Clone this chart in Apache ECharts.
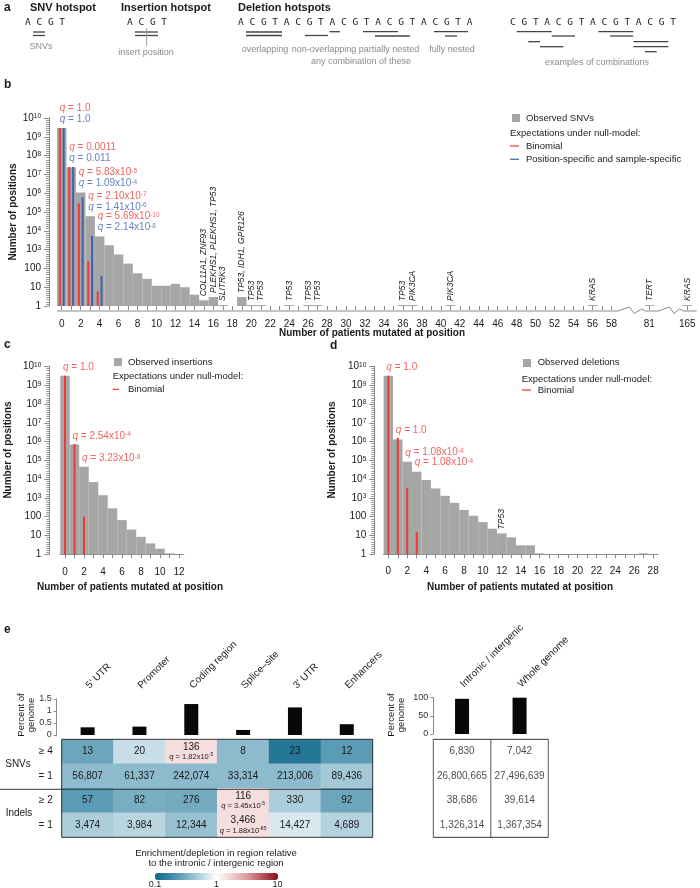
<!DOCTYPE html>
<html><head><meta charset="utf-8">
<script src="https://cdn.jsdelivr.net/npm/echarts@6/dist/echarts.min.js"></script>
<style>html,body{margin:0;padding:0;background:#fff}#c{width:700px;height:888px}</style>
</head><body><div id="c"></div>
<script>
// ================= DATA =================
// Panel b: SNVs
const snvPatientLabels = ['0','1','2','3','4','5','6','7','8','9','10','11','12','13','14','15','16','17','18','19','20','21','22','23','24','25','26','27','28','29','30','31','32','33','34','35','36','37','38','39','40','41','42','43','44','45','46','47','48','49','50','51','52','53','54','55','56','57','58','','','','81','','','','165'];
const snvObserved = [2.9e9, 2.3e7, 1.1e6, 6e4, 5e3, 1.7e3, 550, 180, 55, 28, 12, 12, 15, 10, 4, 2, 3, 1, '-', 3, 1, 1, '-', '-', 1, '-', 1, 1,
  '-','-','-','-','-','-','-','-', 1, 1, '-','-','-', 1,
  '-','-','-','-','-','-','-','-','-','-','-','-','-','-', 1, '-','-','-','-','-', 1, '-','-','-', 1];
const snvGenes = [['15','COL11A1, ZNF93'],['16','PLEKHS1, PLEKHS1, TP53'],['17','SLITRK3'],['19','TP53, IDH1, GPR126'],['20','TP53'],['21','TP53'],['24','TP53'],['26','TP53'],['27','TP53'],['36','TP53'],['37','PIK3CA'],['41','PIK3CA'],['56','KRAS'],['81','TERT'],['165','KRAS']];
const snvBinomial = [2.9e9, 2.5e7, 2.9e5, 240, 6];
const snvPositionSpecific = [2.9e9, 2.5e7, 6e5, 5.3e3, 40];
const qSnvBinomial = ['1.0', '0.0011', '5.83x10^-5', '2.10x10^-7', '5.69x10^-10'];
const qSnvPositionSpecific = ['1.0', '0.011', '1.09x10^-4', '1.41x10^-6', '2.14x10^-8'];

// Panel c: insertions
const insPatientLabels = ['0','1','2','3','4','5','6','7','8','9','10','11','12'];
const insObserved = [3.2e9, 7e5, 4.6e4, 7e3, 1.4e3, 280, 66, 21, 8.5, 3.8, 2, 1, '-'];
const insBinomial = [3.2e9, 7.5e5, 100];
const qInsBinomial = ['1.0', '2.54x10^-4', '3.23x10^-8'];

// Panel d: deletions
const delPatientLabels = ['0','1','2','3','4','5','6','7','8','9','10','11','12','13','14','15','16','17','18','19','20','21','22','23','24','25','26','27','28'];
const delObserved = [3.2e9, 1.3e6, 8.5e4, 2.5e4, 9e3, 3.2e3, 1.3e3, 550, 230, 113, 52, 23, 13, 8, 3, 3, 1, '-','-','-','-','-','-','-','-','-','-', 1, '-'];
const delGenes = [['12','TP53']];
const delBinomial = [3.2e9, 1.6e6, 3.5e3, 15];
const qDelBinomial = ['1.0', '1.0', '1.08x10^-4', '1.08x10^-4'];

// Panel e
const regions = ["5' UTR", 'Promoter', 'Coding region', 'Splice\u2013site', "3' UTR", 'Enhancers'];
const regionPercent = [0.32, 0.35, 1.29, 0.21, 1.15, 0.45];
const refRegions = ['Intronic / intergenic', 'Whole genome'];
const refPercent = [97, 100];
const rowLabels = ['\u2265 4', '= 1', '\u2265 2', '= 1'];
const snvHotCounts = [13, 20, 136, 8, 23, 12];
const snvSingleCounts = [56807, 61337, 242074, 33314, 213006, 89436];
const indelHotCounts = [57, 82, 276, 116, 330, 92];
const indelSingleCounts = [3474, 3984, 12344, 3466, 14427, 4689];
// log10 enrichment relative to intronic / intergenic
const snvHotEnrich = [-0.55, -0.2, 0.17, -0.42, -0.87, -0.62];
const snvSingleEnrich = [-0.42, -0.42, -0.42, -0.42, -0.42, -0.33];
const indelHotEnrich = [-0.62, -0.5, -0.52, 0.17, -0.3, -0.55];
const indelSingleEnrich = [-0.3, -0.25, -0.38, 0.17, -0.14, -0.27];
const qCellCol = [2, 3, 3];
const qCellRow = [0, 2, 3];
const qCellValue = ['1.82x10^-5', '3.45x10^-5', '1.88x10^-85'];
const refCountsSnvHot = [6830, 7042];
const refCountsSnvSingle = [26800665, 27496639];
const refCountsIndelHot = [38686, 39614];
const refCountsIndelSingle = [1326314, 1367354];
const colorbarTicks = ['0.1', '1', '10'];

// ================= STYLE =================
const FONT = '"Liberation Sans", Arial, Helvetica, sans-serif';
const MONO = '"DejaVu Sans Mono", "Liberation Mono", monospace';
const RED = '#ec3b36', BLUE = '#3f62ad', GRAY = '#a6a6a6', AX = '#8a8a8a', TXT = '#1a1a1a';

const chart = echarts.init(document.getElementById('c'), null, {renderer: 'canvas'});

// log10 transform for the count axes (axes are labelled in powers of ten)
function lg(v) { return v === '-' ? '-' : Math.log10(v); }

function supRich(color, size) {
  return {
    i: {fontFamily: FONT, fontStyle: 'italic', fontSize: size, color: color},
    n: {fontFamily: FONT, fontSize: size, color: color},
    s: {fontFamily: FONT, fontSize: size * 0.65, color: color, verticalAlign: 'top', lineHeight: size * 0.8}
  };
}
function qText(q) {
  const parts = q.split('^');
  return '{i|q}{n| = ' + parts[0] + '}' + (parts[1] ? '{s|' + parts[1] + '}' : '');
}
function logLabel(v) {
  const e = Math.round(v);
  if (e === 0) return '{n|1}';
  if (e === 1) return '{n|10}';
  if (e === 2) return '{n|100}';
  return '{n|10}{s|' + e + '}';
}
function logYAxis(grid, offset) {
  return {
    gridIndex: grid, type: 'value', min: 0, max: 10, interval: 1, offset: offset,
    axisLine: {show: true, lineStyle: {color: AX}},
    axisTick: {show: true, length: 5, lineStyle: {color: AX}},
    minorTick: {show: true, splitNumber: 9, length: 3, lineStyle: {color: '#9a9a9a'}},
    splitLine: {show: false},
    axisLabel: {formatter: logLabel, margin: 8, rich: supRich(TXT, 10)}
  };
}
function catXAxis(grid, labels, offset, showLine) {
  return {
    gridIndex: grid, type: 'category', data: labels, offset: offset,
    axisLine: {show: showLine, lineStyle: {color: AX}},
    axisTick: {show: true, alignWithLabel: true, length: 4, lineStyle: {color: AX},
      interval: function (i, v) { return v !== ''; }},
    axisLabel: {fontFamily: FONT, fontSize: 10, color: TXT, margin: 8,
      interval: function (i, v) { return v !== '' && (Number(v) % 2 === 0 || Number(v) > 58); }},
    splitLine: {show: false}
  };
}
function histSeries(xi, yi, values, labels, genes) {
  const gmap = {};
  (genes || []).forEach(g => { gmap[g[0]] = g[1]; });
  return {
    type: 'bar', xAxisIndex: xi, yAxisIndex: yi, barCategoryGap: '0%', barMinHeight: 1,
    itemStyle: {color: GRAY}, z: 2, silent: true,
    data: values.map((v, i) => gmap[labels[i]] ? {value: lg(v), label: {show: true, formatter: gmap[labels[i]]}} : lg(v)),
    label: {show: false, position: 'top', rotate: 90, align: 'left', verticalAlign: 'middle', distance: 4,
      fontFamily: FONT, fontStyle: 'italic', fontSize: 8.5, color: TXT}
  };
}
function expSeries(xi, yi, values, color, off) {
  return {
    type: 'custom', xAxisIndex: xi, yAxisIndex: yi, z: 4, silent: true,
    data: values.map((v, i) => [i, lg(v)]),
    renderItem: function (params, api) {
      const x = api.value(0), v = api.value(1);
      const p0 = api.coord([x, 0]), p1 = api.coord([x, v]);
      const band = api.size([1, 0])[0];
      const dx = off * band;
      return {type: 'line', shape: {x1: p0[0] + dx, y1: p0[1], x2: p1[0] + dx, y2: p1[1]},
        style: {stroke: color, lineWidth: 2}};
    }
  };
}
function qSeries(xi, yi, observed, qs, color, dy) {
  return {
    type: 'scatter', xAxisIndex: xi, yAxisIndex: yi, symbolSize: 0, z: 5, silent: true,
    data: qs.map((q, i) => ({value: [i, lg(observed[i])], label: {formatter: qText(q)}})),
    label: {show: true, position: [-2, dy], align: 'left', verticalAlign: 'middle', rich: supRich(color, 10)}
  };
}
function fmt(n) { return n.toLocaleString('en-US'); }

// ---------- heatmap data ----------
const countRows = [snvHotCounts, snvSingleCounts, indelHotCounts, indelSingleCounts];
const enrichRows = [snvHotEnrich, snvSingleEnrich, indelHotEnrich, indelSingleEnrich];
const heatData = [];
countRows.forEach((row, r) => row.forEach((cnt, c) => {
  let q = '';
  qCellCol.forEach((qc, k) => { if (qc === c && qCellRow[k] === r) q = qCellValue[k]; });
  heatData.push([c, r, enrichRows[r][c], cnt, q]);
}));
const refRows = [refCountsSnvHot, refCountsSnvSingle, refCountsIndelHot, refCountsIndelSingle];
const refData = [];
refRows.forEach((row, r) => row.forEach((cnt, c) => refData.push([c, r, cnt])));

// ---------- graphic (schematic + texts) ----------
const G = [];
function T(text, x, y, o) {
  o = o || {};
  G.push({type: 'text', x: x, y: y, rotation: o.rot || 0, silent: true, z: 10,
    style: {text: text, font: o.font || ('10px ' + FONT), fill: o.fill || TXT,
      align: o.align || 'left', verticalAlign: o.va || 'middle',
      textAlign: o.align || 'left', textVerticalAlign: o.va || 'middle', rich: o.rich}});
}
function L(x1, y1, x2, y2, c, w) {
  G.push({type: 'line', silent: true, z: 10, shape: {x1: x1, y1: y1, x2: x2, y2: y2}, style: {stroke: c || '#444', lineWidth: w || 1.3}});
}
function R(x, y, w, h, c) {
  G.push({type: 'rect', silent: true, z: 10, shape: {x: x, y: y, width: w, height: h}, style: {fill: c}});
}
const BOLD11 = 'bold 11px ' + FONT;
const SMALLG = '9px ' + FONT;
// panel letters
T('a', 4, 8, {font: 'bold 12px ' + FONT});
T('b', 4, 85, {font: 'bold 12px ' + FONT});
T('c', 4, 345, {font: 'bold 12px ' + FONT});
T('d', 330, 346, {font: 'bold 12px ' + FONT});
T('e', 4, 630, {font: 'bold 12px ' + FONT});
// panel a schematic
T('SNV hotspot', 30, 8, {font: BOLD11});
T('Insertion hotspot', 121, 8, {font: BOLD11});
T('Deletion hotspots', 238, 8, {font: BOLD11});
const seqFont = '9.5px ' + MONO;
T('A C G T', 25, 23, {font: seqFont, fill: '#222'});
T('A C G T', 127, 23, {font: seqFont, fill: '#222'});
T('A C G T A C G T A C G T A C G T A C G T A', 238, 23, {font: seqFont, fill: '#222'});
T('C G T A C G T A C G T A C G T', 510, 23, {font: seqFont, fill: '#222'});
L(33, 32, 45, 32); L(33, 35.5, 45, 35.5);
T('SNVs', 41, 46.5, {font: SMALLG, fill: '#8a8a8a', align: 'center'});
L(135, 32, 158, 32); L(135, 35.5, 158, 35.5);
L(146.7, 28, 146.7, 46, '#9a9a9a', 1);
T('insert position', 146, 53, {font: SMALLG, fill: '#8a8a8a', align: 'center'});
L(246, 32, 282, 32); L(246, 35.5, 282, 35.5);
L(305, 35.5, 328, 35.5); L(329.5, 31.7, 340, 31.7);
L(363, 31.7, 398, 31.7); L(375, 36, 410, 36);
L(434, 31.7, 468, 31.7); L(445, 36, 457, 36);
T('overlapping', 265, 50, {font: SMALLG, fill: '#8a8a8a', align: 'center'});
T('non-overlapping', 324, 50, {font: SMALLG, fill: '#8a8a8a', align: 'center'});
T('partially nested', 389, 50, {font: SMALLG, fill: '#8a8a8a', align: 'center'});
T('fully nested', 452, 50, {font: SMALLG, fill: '#8a8a8a', align: 'center'});
T('any combination of these', 361, 62, {font: SMALLG, fill: '#8a8a8a', align: 'center'});
L(516.7, 31.7, 551.7, 31.7); L(551.7, 36, 575, 36); L(528.3, 41.7, 540, 41.7); L(540, 46.7, 563.3, 46.7);
L(598.3, 31.7, 633.3, 31.7); L(610, 36, 633.3, 36); L(633.3, 41.7, 668.3, 41.7); L(633.3, 46.7, 668.3, 46.7); L(645, 51.7, 656.7, 51.7);
T('examples of combinations', 597, 63, {font: SMALLG, fill: '#8a8a8a', align: 'center'});
// axis titles
const TITLE = 'bold 10px ' + FONT;
T('Number of positions', 13, 212, {font: TITLE, align: 'center', rot: Math.PI / 2});
T('Number of patients mutated at position', 372, 333, {font: TITLE, align: 'center'});
T('Number of positions', 8, 450, {font: TITLE, align: 'center', rot: Math.PI / 2});
T('Number of patients mutated at position', 130, 587, {font: TITLE, align: 'center'});
T('Number of positions', 332, 450, {font: TITLE, align: 'center', rot: Math.PI / 2});
T('Number of patients mutated at position', 520, 587, {font: TITLE, align: 'center'});
// legends
const LEG = '9.5px ' + FONT;
R(512, 114, 8, 8, GRAY); T('Observed SNVs', 526, 118.3, {font: LEG});
T('Expectations under null-model:', 510, 133.3, {font: LEG});
L(510, 146, 519, 146, RED, 1.2); T('Binomial', 526, 146, {font: LEG});
L(510, 159.3, 519, 159.3, BLUE, 1.2); T('Position-specific and sample-specific', 526, 159.3, {font: LEG});
R(114, 358, 8, 8, GRAY); T('Observed insertions', 128, 362, {font: LEG});
T('Expectations under null-model:', 112.7, 376, {font: LEG});
L(112.7, 389.3, 119, 389.3, RED, 1.2); T('Binomial', 128, 389.3, {font: LEG});
R(523, 359, 8, 8, GRAY); T('Observed deletions', 537.7, 362.7, {font: LEG});
T('Expectations under null-model:', 521.7, 379, {font: LEG});
L(521.7, 390, 531, 390, RED, 1.2); T('Binomial', 537.7, 390, {font: LEG});
// panel e texts
T('Percent of\ngenome', 26.7, 715, {font: '9.5px ' + FONT, align: 'center', rot: Math.PI / 2});
T('Percent of\ngenome', 396.7, 715, {font: '9.5px ' + FONT, align: 'center', rot: Math.PI / 2});
T('SNVs', 18, 764.3, {font: '10px ' + FONT, align: 'center'});
T('Indels', 19, 813, {font: '10px ' + FONT, align: 'center'});
L(0, 789.3, 372.7, 789.3, '#333', 1);
L(490.8, 739.3, 490.8, 837.3, '#555', 1);
T('Enrichment/depletion in region relative\nto the intronic / intergenic region', 216, 858.5, {font: '9.5px ' + FONT, align: 'center'});
T(colorbarTicks[0], 155, 885, {font: '9px ' + FONT, align: 'center'});
T(colorbarTicks[1], 216.5, 885, {font: '9px ' + FONT, align: 'center'});
T(colorbarTicks[2], 277.5, 885, {font: '9px ' + FONT, align: 'center'});

// ================= OPTION =================
const option = {
  animation: false,
  textStyle: {fontFamily: FONT},
  grid: [
    {left: 57, top: 118, width: 635, height: 188},
    {left: 60.25, top: 366.5, width: 123.5, height: 187.8},
    {left: 383.6, top: 366.5, width: 274.3, height: 187.8},
    {left: 61.7, top: 699, width: 311, height: 36},
    {left: 61.7, top: 739.3, width: 311, height: 98, show: true, borderColor: '#333', borderWidth: 1, backgroundColor: 'transparent', z: 5},
    {left: 433.3, top: 697.7, width: 115, height: 36.3},
    {left: 433.3, top: 739.3, width: 115, height: 98, show: true, borderColor: '#555', borderWidth: 1, backgroundColor: 'transparent'}
  ],
  xAxis: [
    catXAxis(0, snvPatientLabels, 5, false),
    catXAxis(1, insPatientLabels, 5, true),
    catXAxis(2, delPatientLabels, 4, true),
    {gridIndex: 3, type: 'category', data: regions, position: 'top', axisLine: {show: false}, axisTick: {show: false},
      axisLabel: {rotate: 45, margin: 12, fontSize: 10, color: TXT, interval: 0}},
    {gridIndex: 4, type: 'category', data: regions, show: false},
    {gridIndex: 5, type: 'category', data: refRegions, position: 'top', axisLine: {show: false}, axisTick: {show: false},
      axisLabel: {rotate: 45, margin: 12, fontSize: 10, color: TXT, interval: 0}},
    {gridIndex: 6, type: 'category', data: refRegions, axisLine: {show: false}, axisTick: {show: false}, axisLabel: {show: false},
      splitLine: {show: false}}
  ],
  yAxis: [
    logYAxis(0, 8),
    logYAxis(1, 11),
    logYAxis(2, 9.3),
    {gridIndex: 3, type: 'value', min: 0, max: 1.5, interval: 0.5, offset: 5, splitLine: {show: false},
      axisLine: {show: true, lineStyle: {color: AX}}, axisTick: {show: true, length: 3, lineStyle: {color: AX}},
      axisLabel: {fontSize: 9, color: '#333', margin: 5}},
    {gridIndex: 4, type: 'category', data: ['r0', 'r1', 'r2', 'r3'], inverse: true, axisLine: {show: false}, axisTick: {show: false},
      axisLabel: {fontSize: 10, color: TXT, margin: 9, formatter: function (v, i) { return rowLabels[i]; }}},
    {gridIndex: 5, type: 'value', min: 0, max: 100, interval: 50, offset: 0, splitLine: {show: false},
      axisLine: {show: true, lineStyle: {color: AX}}, axisTick: {show: true, length: 3, lineStyle: {color: AX}},
      axisLabel: {fontSize: 9, color: '#333', margin: 5}},
    {gridIndex: 6, type: 'category', data: ['r0', 'r1', 'r2', 'r3'], inverse: true, axisLine: {show: false}, axisTick: {show: false},
      axisLabel: {show: false}, splitLine: {show: true, interval: function (i) { return i === 2; }, lineStyle: {color: '#555'}}}
  ],
  visualMap: {
    type: 'continuous', min: -1, max: 1, dimension: 2, seriesIndex: 12, orient: 'horizontal',
    left: 155, top: 873, itemWidth: 7, itemHeight: 123, padding: 0, calculable: false, hoverLink: false,
    text: null, show: true,
    inRange: {color: ['#0d6586', '#3a88a7', '#78adc2', '#b9d6e0', '#ffffff', '#efcfcf', '#d99a9d', '#b5545b', '#8b0d1a']}
  },
  series: [
    // 0-4 panel b
    histSeries(0, 0, snvObserved, snvPatientLabels, snvGenes),
    expSeries(0, 0, snvBinomial, RED, -0.2),
    expSeries(0, 0, snvPositionSpecific, BLUE, 0.2),
    qSeries(0, 0, snvObserved, qSnvBinomial, RED, -20),
    qSeries(0, 0, snvObserved, qSnvPositionSpecific, BLUE, -9),
    // 5 x-axis line with breaks (panel b)
    {type: 'custom', xAxisIndex: 0, yAxisIndex: 0, silent: true, z: 3, data: [[0, 0]],
      renderItem: function (params, api) {
        const b = api.coord([0, 0]);
        const band = api.size([1, 0])[0];
        const y = b[1] + 5;
        const X = k => b[0] + k * band;
        const pts = [[X(-0.5), y], [X(58.7), y], [X(59.9), y - 4], [X(60.4), y + 2.5], [X(61.2), y - 2], [X(61.6), y],
          [X(63.0), y], [X(64.1), y - 4], [X(64.6), y + 2.5], [X(65.2), y - 2], [X(65.6), y], [X(67.0), y]];
        return {type: 'polyline', shape: {points: pts}, style: {stroke: AX, lineWidth: 1, fill: null}};
      }},
    // 6-8 panel c
    histSeries(1, 1, insObserved, insPatientLabels, []),
    expSeries(1, 1, insBinomial, RED, 0),
    qSeries(1, 1, insObserved, qInsBinomial, RED, -8.5),
    // 9-11 panel d
    histSeries(2, 2, delObserved, delPatientLabels, delGenes),
    expSeries(2, 2, delBinomial, RED, 0),
    qSeries(2, 2, delObserved, qDelBinomial, RED, -9),
    // 12 heatmap left
    {type: 'heatmap', xAxisIndex: 4, yAxisIndex: 4, data: heatData, silent: true,
      label: {show: true, color: TXT,
        formatter: function (p) {
          let s = '{c|' + fmt(p.data[3]) + '}';
          if (p.data[4]) s += '\n' + qText(p.data[4]).replace('{i|', '{qi|').replace('{n|', '{qn|').replace('{s|', '{qs|');
          return s;
        },
        rich: {
          c: {fontFamily: FONT, fontSize: 10, color: TXT, lineHeight: 11},
          qi: {fontFamily: FONT, fontStyle: 'italic', fontSize: 7.5, color: TXT, lineHeight: 9},
          qn: {fontFamily: FONT, fontSize: 7.5, color: TXT, lineHeight: 9},
          qs: {fontFamily: FONT, fontSize: 5, color: TXT, verticalAlign: 'top', lineHeight: 6}
        }}},
    // 13 left percent bars
    {type: 'bar', xAxisIndex: 3, yAxisIndex: 3, data: regionPercent, barWidth: 14, itemStyle: {color: '#080808'}, silent: true},
    // 14 right percent bars
    {type: 'bar', xAxisIndex: 5, yAxisIndex: 5, data: refPercent, barWidth: 14, itemStyle: {color: '#080808'}, silent: true},
    // 15 right table counts
    {type: 'scatter', xAxisIndex: 6, yAxisIndex: 6, symbolSize: 0, silent: true, data: refData,
      label: {show: true, position: 'inside', fontFamily: FONT, fontSize: 10, color: TXT,
        formatter: function (p) { return fmt(p.data[2]); }}}
  ],
  graphic: G
};
chart.setOption(option);
</script>
</body></html>
